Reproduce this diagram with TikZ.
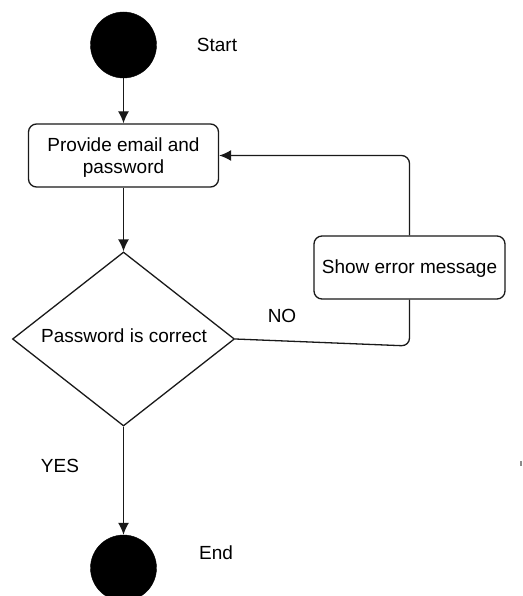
\documentclass[tikz,border=0pt]{standalone}
\usepackage{fontspec}
\setmainfont{Liberation Sans}
\usetikzlibrary{shapes.geometric,arrows.meta}
\begin{document}
\begin{tikzpicture}[x=1pt,y=-1pt,
  every node/.style={font=\fontsize{19}{22}\selectfont},
  dot/.style={circle,fill=black,draw=black,minimum size=66pt,inner sep=0pt},
  box/.style={draw=black!90,line width=1.3pt,rounded corners=8pt,inner sep=0pt},
  decision/.style={draw=black!90,line width=1.3pt,diamond,inner sep=0pt,minimum width=222pt,minimum height=174pt},
  link/.style={draw=black!90,line width=1.3pt},
  arr/.style={link,-{Latex[length=12pt,width=11pt]}},
  lbl/.style={inner sep=0pt,align=center}]
\useasboundingbox (0,0) rectangle (522,596);

% shapes
\node[dot] (start) at (123.5,45) {};
\node[box,minimum width=190pt,minimum height=63pt] (provide) at (123.5,155.5) {};
\node[decision] (check) at (123.5,339) {};
\node[box,minimum width=191pt,minimum height=63pt] (error) at (409.5,267.5) {};
\node[dot] (finish) at (123.5,568) {};

% texts
\node[lbl] (startlbl) at (217,45) {Start};
\node[lbl] (providetxt) at (123.5,157.5) {Provide email and\\password};
\node[lbl] (checktxt) at (124,336) {Password is correct};
\node[lbl] (errortxt) at (409.5,268.5) {Show error message};
\node[lbl] (endlbl) at (216,553) {End};
\node[lbl] (nolbl) at (282,316) {NO};
\node[lbl] (yeslbl) at (60,466) {YES};

% connectors
\draw[arr] (start) -- (provide);
\draw[arr] (provide) -- (check.north);
\draw[link,rounded corners=8pt] (check.east) -- (409.5,346) -- (error.south);
\coordinate (bend) at (error.north |- provide.east);
\draw[arr,rounded corners=8pt] (error.north) -- (bend) -- (provide.east);
\draw[arr] (check.south) -- (finish);

% small stray mark at the right edge
\fill[black!45] (519.5,461) rectangle (521.5,466);
\end{tikzpicture}
\end{document}
